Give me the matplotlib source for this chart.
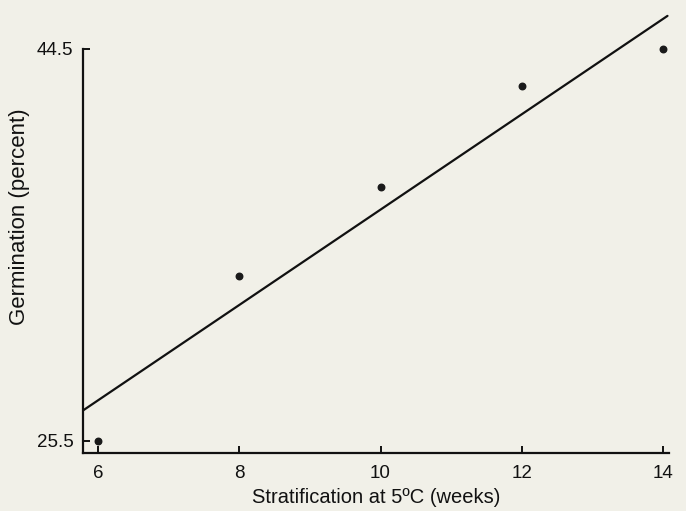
import matplotlib.pyplot as plt
import numpy as np

# data
weeks = [6, 8, 10, 12, 14]
germination = [25.5, 33.5, 37.8, 42.7, 44.5]

# fitted line end points
fit_x = [5.79, 14.06]
fit_y = [26.97, 46.1]

xticks = [6, 8, 10, 12, 14]
yticks = [25.5, 44.5]

bg = '#f1f0e8'
plt.rcParams['font.family'] = ['Liberation Sans', 'DejaVu Sans']

fig = plt.figure(figsize=(6.86, 5.11), dpi=100, facecolor=bg)
ax = fig.add_axes([0.121, 0.114, 0.8546, 0.865], facecolor=bg)

ax.plot(fit_x, fit_y, color='#111111', lw=1.6, solid_capstyle='round')
ax.scatter(weeks, germination, s=22, color='#1a1a1a', zorder=3)

ax.set_xlim(5.79, 14.085)
ax.set_ylim(24.92, 46.35)

for s in ['top', 'right']:
    ax.spines[s].set_visible(False)
ax.spines['left'].set_bounds(24.92, 44.5)
for s in ['left', 'bottom']:
    ax.spines[s].set_linewidth(1.6)
    ax.spines[s].set_color('#111111')

ax.set_xticks(xticks)
ax.set_xticklabels([str(t) for t in xticks])
ax.set_yticks(yticks)
ax.set_yticklabels([str(t) for t in yticks])
ax.tick_params(direction='in', length=5, width=1.4, labelsize=13.5,
               colors='#111111')
ax.tick_params(axis='x', pad=9)
ax.tick_params(axis='y', pad=7)

ax.set_xlabel('Stratification at 5ºC (weeks)', fontsize=14.5, labelpad=4,
              color='#111111')
ax.set_ylabel('Germination (percent)', fontsize=16, color='#111111')
ax.yaxis.set_label_coords(-0.09, 0.533)

fig.savefig('out.png', dpi=100, facecolor=bg)
